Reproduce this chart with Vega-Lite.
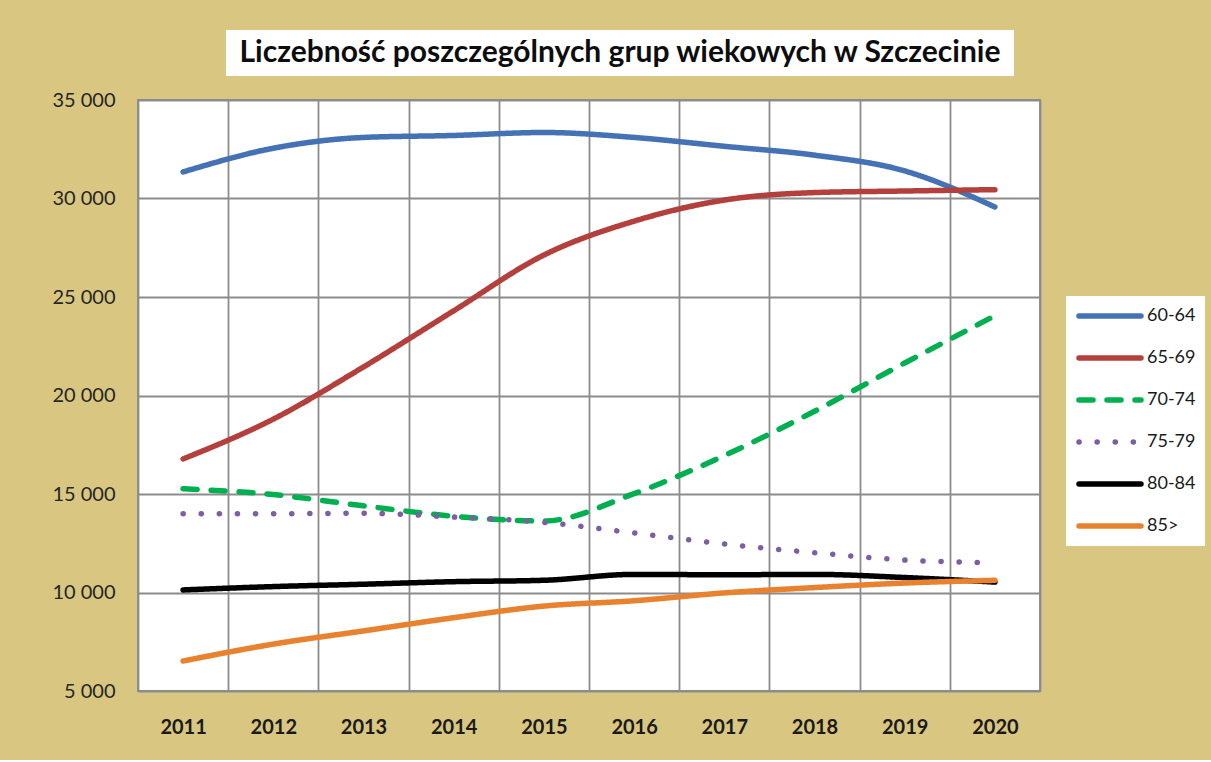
{
  "$schema": "https://vega.github.io/schema/vega-lite/v6.json",
  "background": "#d9c681",
  "padding": {"left": 50, "top": 30, "right": 11, "bottom": 22},
  "config": {
    "font": "Lato",
    "view": {"stroke": null}
  },
  "spacing": 13,
  "bounds": "full",
  "datasets": {
    "pop": [
      {"year": "2011", "group": "60-64", "value": 31350},
      {"year": "2012", "group": "60-64", "value": 32550},
      {"year": "2013", "group": "60-64", "value": 33100},
      {"year": "2014", "group": "60-64", "value": 33200},
      {"year": "2015", "group": "60-64", "value": 33350},
      {"year": "2016", "group": "60-64", "value": 33100},
      {"year": "2017", "group": "60-64", "value": 32650},
      {"year": "2018", "group": "60-64", "value": 32200},
      {"year": "2019", "group": "60-64", "value": 31400},
      {"year": "2020", "group": "60-64", "value": 29570},
      {"year": "2011", "group": "65-69", "value": 16780},
      {"year": "2012", "group": "65-69", "value": 18800},
      {"year": "2013", "group": "65-69", "value": 21450},
      {"year": "2014", "group": "65-69", "value": 24300},
      {"year": "2015", "group": "65-69", "value": 27130},
      {"year": "2016", "group": "65-69", "value": 28850},
      {"year": "2017", "group": "65-69", "value": 29920},
      {"year": "2018", "group": "65-69", "value": 30300},
      {"year": "2019", "group": "65-69", "value": 30380},
      {"year": "2020", "group": "65-69", "value": 30450},
      {"year": "2011", "group": "70-74", "value": 15270},
      {"year": "2012", "group": "70-74", "value": 14970},
      {"year": "2013", "group": "70-74", "value": 14400},
      {"year": "2014", "group": "70-74", "value": 13870},
      {"year": "2015", "group": "70-74", "value": 13630},
      {"year": "2016", "group": "70-74", "value": 15020},
      {"year": "2017", "group": "70-74", "value": 16950},
      {"year": "2018", "group": "70-74", "value": 19200},
      {"year": "2019", "group": "70-74", "value": 21650},
      {"year": "2020", "group": "70-74", "value": 24050},
      {"year": "2011", "group": "75-79", "value": 14000},
      {"year": "2012", "group": "75-79", "value": 14000},
      {"year": "2013", "group": "75-79", "value": 14020},
      {"year": "2014", "group": "75-79", "value": 13830},
      {"year": "2015", "group": "75-79", "value": 13560},
      {"year": "2016", "group": "75-79", "value": 13020},
      {"year": "2017", "group": "75-79", "value": 12460},
      {"year": "2018", "group": "75-79", "value": 12020},
      {"year": "2019", "group": "75-79", "value": 11650},
      {"year": "2020", "group": "75-79", "value": 11510},
      {"year": "2011", "group": "80-84", "value": 10130},
      {"year": "2012", "group": "80-84", "value": 10300},
      {"year": "2013", "group": "80-84", "value": 10420},
      {"year": "2014", "group": "80-84", "value": 10550},
      {"year": "2015", "group": "80-84", "value": 10620},
      {"year": "2016", "group": "80-84", "value": 10920},
      {"year": "2017", "group": "80-84", "value": 10900},
      {"year": "2018", "group": "80-84", "value": 10920},
      {"year": "2019", "group": "80-84", "value": 10760},
      {"year": "2020", "group": "80-84", "value": 10530},
      {"year": "2011", "group": "85>", "value": 6520},
      {"year": "2012", "group": "85>", "value": 7380},
      {"year": "2013", "group": "85>", "value": 8050},
      {"year": "2014", "group": "85>", "value": 8720},
      {"year": "2015", "group": "85>", "value": 9310},
      {"year": "2016", "group": "85>", "value": 9580},
      {"year": "2017", "group": "85>", "value": 9980},
      {"year": "2018", "group": "85>", "value": 10250},
      {"year": "2019", "group": "85>", "value": 10480},
      {"year": "2020", "group": "85>", "value": 10620}
    ]
  },
  "vconcat": [
    {
      "spacing": 10,
      "hconcat": [
        {
          "width": 78,
          "height": 46,
          "view": {"fill": null, "stroke": null},
          "data": {"values": [{"t": ""}]},
          "mark": {"type": "text"},
          "encoding": {"text": {"field": "t", "type": "nominal"}}
        },
        {
          "width": 788,
          "height": 46,
          "view": {"fill": "white", "stroke": null},
          "data": {"values": [{"t": "Liczebność poszczególnych grup wiekowych w Szczecinie"}]},
          "mark": {"type": "text", "font": "Lato", "fontSize": 30, "fontWeight": "bold", "color": "#0d0d0d"},
          "encoding": {"text": {"field": "t", "type": "nominal"}}
        }
      ]
    },
    {
      "width": 902,
      "height": 591,
      "view": {"fill": "white", "stroke": "#8c8c8c", "strokeWidth": 1.8},
      "data": {"name": "pop"},
      "mark": {"type": "line", "interpolate": "monotone", "strokeCap": "round", "strokeJoin": "round"},
      "encoding": {
        "x": {
          "field": "year", "type": "ordinal",
          "scale": {"type": "band", "paddingInner": 0, "paddingOuter": 0},
          "axis": {
            "title": null, "ticks": false, "domain": false, "labelAngle": 0,
            "labelPadding": 26, "labelFontSize": 20, "labelFontWeight": "bold", "labelColor": "#1a1a1a",
            "grid": true, "tickBand": "extent", "gridColor": "#8c8c8c", "gridWidth": 1.8
          }
        },
        "y": {
          "field": "value", "type": "quantitative",
          "scale": {"domain": [5000, 35000], "zero": false, "nice": false},
          "axis": {
            "title": null, "ticks": false, "domain": false,
            "values": [5000, 10000, 15000, 20000, 25000, 30000, 35000],
            "labelExpr": "replace(format(datum.value, ','), ',', ' ')",
            "labelPadding": 23, "labelFontSize": 20, "labelColor": "#262626",
            "grid": true, "gridColor": "#8c8c8c", "gridWidth": 1.8
          }
        },
        "color": {
          "field": "group", "type": "nominal",
          "scale": {
            "domain": ["60-64", "65-69", "70-74", "75-79", "80-84", "85>"],
            "range": ["#4472b4", "#b3403c", "#00b050", "#7c5fa3", "#000000", "#e8822f"]
          },
          "legend": {
            "title": null, "orient": "none", "legendX": 928, "legendY": 266,
            "fillColor": "white", "padding": 9, "symbolOffset": 1,
            "symbolType": "stroke", "symbolSize": 3844, "symbolStrokeWidth": 3,
            "clipHeight": 22,
            "labelFontSize": 18, "labelColor": "#1a1a1a", "labelOffset": 3,
            "rowPadding": 20,
            "encode": {
              "symbols": {
                "update": {
                  "strokeDash": {"signal": "datum.value === '70-74' ? [6, 8] : datum.value === '75-79' ? [0.1, 7] : [1, 0]"},
                  "strokeCap": {"value": "round"},
                  "strokeWidth": {"value": 3}
                }
              }
            }
          }
        },
        "strokeDash": {
          "field": "group", "type": "nominal",
          "scale": {
            "domain": ["60-64", "65-69", "70-74", "75-79", "80-84", "85>"],
            "range": [[1, 0], [1, 0], [14, 14], [0.1, 18], [1, 0], [1, 0]]
          },
          "legend": null
        },
        "strokeWidth": {
          "field": "group", "type": "nominal",
          "scale": {
            "domain": ["60-64", "65-69", "70-74", "75-79", "80-84", "85>"],
            "range": [5.5, 5.5, 5.5, 7, 5.5, 5]
          },
          "legend": null
        }
      }
    }
  ]
}
